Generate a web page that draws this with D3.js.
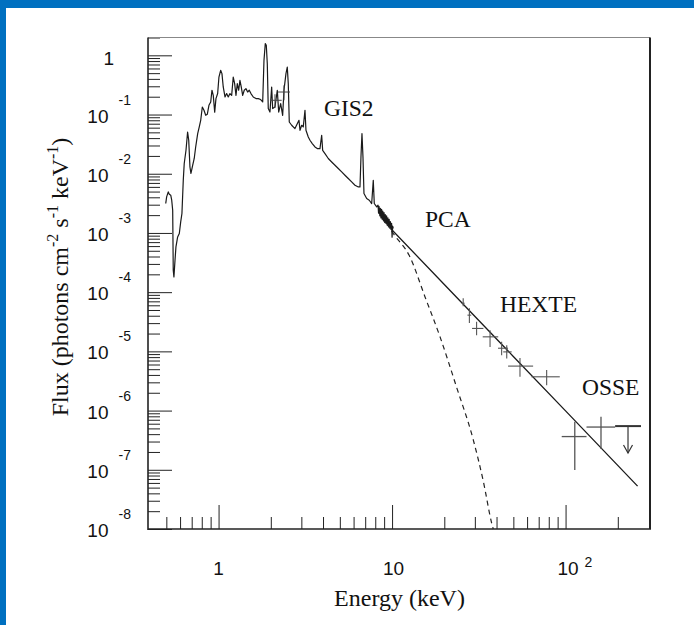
<!DOCTYPE html>
<html><head><meta charset="utf-8">
<script src="https://cdn.jsdelivr.net/npm/d3@7"></script>
<style>
html,body{margin:0;padding:0;background:#fff;}
svg{display:block;}
</style></head>
<body>
<svg id="c" width="694" height="625"></svg>
<script>
// ---------------- data ----------------
const xDomain = [0.392, 306.6];     // keV
const yDomain = [1e-8, 2];          // photons cm-2 s-1 keV-1
const xTickLabels = [{v:1, base:"1", sup:""}, {v:10, base:"10", sup:""}, {v:100, base:"10", sup:"2"}];
const yTickExps = [0,-1,-2,-3,-4,-5,-6,-7,-8];
const xMinorTicks = [0.5,0.6,0.7,0.8,0.9,2,3,4,5,6,7,8,9,20,30,40,50,60,70,80,90,200];

// GIS2 / PCA spectrum (energy keV, flux)
const specE = [
 0.496,0.502,0.513,0.520,0.530,0.537,0.544,0.548,0.553,0.561,
 0.568,0.581,0.594,0.605,0.615,0.626,0.634,0.649,0.663,0.673,
 0.684,0.693,0.709,0.724,0.738,0.758,0.774,0.789,0.806,0.824,
 0.843,0.861,0.880,0.901,0.916,0.932,0.950,0.966,0.988,1.005,
 1.028,1.046,1.064,1.089,1.113,1.137,1.163,1.190,1.215,1.238,
 1.260,1.282,1.306,1.328,1.351,1.377,1.406,1.438,1.471,1.503,
 1.537,1.585,1.643,1.694,1.748,1.796,1.827,1.859,1.884,1.909,
 1.934,1.978,2.023,2.050,2.114,2.180,2.221,2.280,2.341,2.382,
 2.446,2.489,2.522,2.556,2.638,2.756,2.907,2.946,3.013,3.077,
 3.148,3.190,3.289,3.364,3.468,3.594,3.706,3.841,3.929,3.981,
 4.105,4.289,4.487,4.688,4.898,5.124,5.352,5.592,5.850,6.112,
 6.388,6.531,6.618,6.707,6.797,6.887,7.139,7.390,7.629,7.792,7.897,8.152,
 8.30,8.36,8.42,8.50,8.56,8.63,8.70,8.77,8.84,8.92,8.99,9.07,9.14,9.22,
 9.30,9.38,9.46,9.54,9.62,9.70,9.78,9.86,9.94,10.0,10.08,10.16];
const specF = [
 3.14e-3,4.06e-3,4.93e-3,4.51e-3,4.34e-3,3.57e-3,2.42e-3,2.35e-4,1.81e-4,3.47e-4,
 5.82e-4,8.58e-4,9.79e-4,1.54e-3,2.13e-3,7.77e-3,1.49e-2,2.49e-2,5.07e-2,3.68e-2,
 1.30e-2,1.01e-2,1.39e-2,1.81e-2,2.83e-2,4.77e-2,6.17e-2,8.00e-2,0.134,0.118,
 0.0971,0.101,0.143,0.163,0.257,0.211,0.110,0.186,0.226,0.430,
 0.558,0.491,0.292,0.198,0.226,0.198,0.226,0.211,0.430,0.333,
 0.211,0.333,0.257,0.379,0.292,0.211,0.257,0.274,0.240,0.257,
 0.226,0.198,0.186,0.186,0.179,0.163,0.823,1.576,1.475,0.724,
 0.126,0.110,0.292,0.126,0.134,0.257,0.110,0.153,0.0971,0.257,
 0.491,0.635,0.333,0.0748,0.0659,0.0579,0.0800,0.0542,0.0659,0.0617,
 0.118,0.0542,0.0418,0.0368,0.0323,0.0283,0.0266,0.0266,0.0447,0.0249,
 0.0219,0.0181,0.0158,0.0139,0.01224,0.01073,9.43e-3,8.30e-3,7.27e-3,6.39e-3,
 5.99e-3,5.99e-3,0.0192,0.0477,0.0192,4.63e-3,3.81e-3,3.57e-3,3.14e-3,7.77e-3,3.14e-3,2.75e-3,
 2.95e-3,2.15e-3,2.8e-3,1.95e-3,2.6e-3,1.8e-3,2.5e-3,1.7e-3,2.35e-3,1.6e-3,2.2e-3,1.5e-3,2.05e-3,1.45e-3,
 1.95e-3,1.35e-3,1.8e-3,1.3e-3,1.7e-3,1.2e-3,1.55e-3,1.15e-3,1.45e-3,8.5e-4,1.3e-3,1.19e-3];

// GIS2 error crosses
const gisE   = [2.114, 2.382];
const gisElo = [1.978, 2.200];
const gisEhi = [2.311, 2.579];
const gisF   = [0.174, 0.240];
const gisFlo = [0.130, 0.174];
const gisFhi = [0.220, 0.311];

// total model (solid) and thermal component (dashed)
const modelE = [10, 20, 50, 100, 260];
const modelF = [1.12e-3, 1.35e-4, 8.2e-6, 9.9e-7, 5.3e-8];
const dashE  = [9.3, 10.16, 12.68, 15.49, 18.9, 23.5, 29.4, 33.6, 37.5, 38.3];
const dashF  = [1.45e-3, 9.8e-4, 3.94e-4, 8.3e-5, 1.76e-5, 2.52e-6, 3.18e-7, 6.3e-8, 1.26e-8, 1.0e-8];

// HEXTE
const hexE   = [25.7, 27.9, 30.7, 36.7, 42.8, 45.8, 54.6, 77.8];
const hexElo = [25.2, 27.2, 28.9, 33.3, 40.8, 43.7, 46.7, 63.6];
const hexEhi = [26.2, 28.6, 33.6, 40.9, 46.6, 48.9, 65.0, 92.6];
const hexF   = [6.5e-5, 4.09e-5, 2.44e-5, 1.76e-5, 1.13e-5, 9.8e-6, 5.64e-6, 3.72e-6];
const hexFlo = [5.8e-5, 3.0e-5, 1.88e-5, 1.19e-5, 8.6e-6, 7.6e-6, 3.72e-6, 2.69e-6];
const hexFhi = [7.9e-5, 5.37e-5, 3.15e-5, 2.28e-5, 1.45e-5, 1.27e-5, 7.7e-6, 4.83e-6];

// OSSE
const osseE   = [113, 160];
const osseElo = [95, 132];
const osseEhi = [132, 193];
const osseF   = [3.64e-7, 5.27e-7];
const osseFlo = [9.9e-8, 2.24e-7];
const osseFhi = [6.5e-7, 7.85e-7];
// OSSE upper limit
const ulE = [229], ulElo = [193], ulEhi = [272], ulF = [5.47e-7], ulTo = [1.92e-7];

// instrument labels (text start energy, baseline flux)
const instNames = ["GIS2", "PCA", "HEXTE", "OSSE"];
const instE = [4.05, 15.47, 41.9, 124.3];
const instF = [0.0934, 1.25e-3, 4.6e-5, 1.83e-6];

// ---------------- drawing ----------------
const W = 694, H = 625;
const svg = d3.select("#c");
svg.append("rect").attr("width", W).attr("height", H).attr("fill", "#fff");
svg.append("rect").attr("x",0).attr("y",0).attr("width",W).attr("height",8).attr("fill","#0070c0");
svg.append("rect").attr("x",0).attr("y",0).attr("width",6).attr("height",H).attr("fill","#0070c0");

const m = {l:148, t:37.5, r:650, b:529};
const x = d3.scaleLog().domain(xDomain).range([m.l, m.r]);
const y = d3.scaleLog().domain(yDomain).range([m.b, m.t]);

const SANS = "'Liberation Sans', Arial, Helvetica, sans-serif";
const SERIF = "'Liberation Serif', 'Times New Roman', Times, serif";

// ticks
const xMajor = xTickLabels.map(d => d.v);
const yMajor = yTickExps.map(e => Math.pow(10, e));
const yMinor = y.ticks().filter(v => !yMajor.some(M => Math.abs(Math.log10(v) - Math.log10(M)) < 1e-6));

function styleAxis(g){
  g.select(".domain").remove();
  g.selectAll(".tick line").attr("stroke", "#222").attr("stroke-width", 1);
  g.selectAll(".tick text").remove();
}
svg.append("g").attr("transform", `translate(0,${m.b})`)
  .call(d3.axisBottom(x).tickValues(xMinorTicks).tickSize(-12).tickFormat("")).call(styleAxis);
svg.append("g").attr("transform", `translate(0,${m.b})`)
  .call(d3.axisBottom(x).tickValues(xMajor).tickSize(-24).tickFormat("")).call(styleAxis);
svg.append("g").attr("transform", `translate(${m.l},0)`)
  .call(d3.axisLeft(y).tickValues(yMinor).tickSize(-12).tickFormat("")).call(styleAxis);
svg.append("g").attr("transform", `translate(${m.l},0)`)
  .call(d3.axisLeft(y).tickValues(yMajor).tickSize(-24).tickFormat("")).call(styleAxis);

// frame
svg.append("line").attr("x1",m.l).attr("x2",m.r).attr("y1",m.t).attr("y2",m.t).attr("stroke","#888").attr("stroke-width",1.2);
svg.append("line").attr("x1",m.r).attr("x2",m.r).attr("y1",m.t).attr("y2",m.b).attr("stroke","#222").attr("stroke-width",2);
svg.append("line").attr("x1",m.l).attr("x2",m.l).attr("y1",m.t).attr("y2",m.b+1).attr("stroke","#222").attr("stroke-width",1.6);
svg.append("line").attr("x1",m.l).attr("x2",m.r+1).attr("y1",m.b).attr("y2",m.b).attr("stroke","#222").attr("stroke-width",1.6);

// y tick labels
yTickExps.forEach(e => {
  const yy = y(Math.pow(10, e));
  if (e === 0) {
    svg.append("text").attr("x", 114).attr("y", yy + 10).attr("text-anchor","end")
      .attr("font-family", SANS).attr("font-size", 19).attr("fill","#111").text("1");
  } else {
    svg.append("text").attr("x", 108.5).attr("y", yy + 8).attr("text-anchor","end")
      .attr("font-family", SANS).attr("font-size", 19).attr("fill","#111").text("10");
    svg.append("text").attr("x", 118.5).attr("y", yy - 10).attr("text-anchor","start")
      .attr("font-family", SANS).attr("font-size", 14).attr("fill","#111").text(String(e));
  }
});
// x tick labels
xTickLabels.forEach(d => {
  const xx = x(d.v);
  if (!d.sup) {
    svg.append("text").attr("x", xx + (d.base.length > 1 ? 1.5 : 0)).attr("y", 575).attr("text-anchor","middle")
      .attr("font-family", SANS).attr("font-size", 19).attr("fill","#111").text(d.base);
  } else {
    svg.append("text").attr("x", xx + 2.5).attr("y", 575).attr("text-anchor","middle")
      .attr("font-family", SANS).attr("font-size", 19).attr("fill","#111").text(d.base);
    svg.append("text").attr("x", xx + 19).attr("y", 567).attr("text-anchor","start")
      .attr("font-family", SANS).attr("font-size", 14).attr("fill","#111").text(d.sup);
  }
});

// axis titles
svg.append("text").attr("x", 399.5).attr("y", 606).attr("text-anchor","middle")
  .attr("font-family", SERIF).attr("font-size", 24).attr("fill","#111").text("Energy (keV)");

const yt = svg.append("text").attr("transform", "translate(67.5,277) rotate(-90)")
  .attr("text-anchor","middle").attr("font-family", SERIF).attr("font-size", 24).attr("fill","#111");
const parts = [["Flux (photons cm",0],["-2",1],[" s",0],["-1",1],[" keV",0],["-1",1],[")",0]];
let prevSup = 0;
parts.forEach(([t, s]) => {
  const ts = yt.append("tspan").text(t);
  if (s) { ts.attr("font-size", 16).attr("dy", prevSup ? 0 : -10); }
  else if (prevSup) { ts.attr("dy", 10); }
  prevSup = s;
});

// plot content
const line = d3.line().x(d => x(d[0])).y(d => y(d[1]));
const spec = specE.map((e, i) => [e, specF[i]]);
svg.append("path").attr("d", line(spec)).attr("fill","none").attr("stroke","#1a1a1a").attr("stroke-width",1.2).attr("stroke-linejoin","round");

const model = modelE.map((e, i) => [e, modelF[i]]);
svg.append("path").attr("d", line(model)).attr("fill","none").attr("stroke","#1a1a1a").attr("stroke-width",1.3);

const dashed = dashE.map((e, i) => [e, dashF[i]]);
svg.append("path").attr("d", d3.line().x(d => x(d[0])).y(d => y(d[1])).curve(d3.curveMonotoneX)(dashed))
  .attr("fill","none").attr("stroke","#222").attr("stroke-width",1.2).attr("stroke-dasharray","5,4");

function crosses(E, Elo, Ehi, F, Flo, Fhi, col, w){
  const g = svg.append("g").attr("stroke", col).attr("stroke-width", w);
  E.forEach((e, i) => {
    g.append("line").attr("x1", x(Elo[i])).attr("x2", x(Ehi[i])).attr("y1", y(F[i])).attr("y2", y(F[i]));
    g.append("line").attr("x1", x(e)).attr("x2", x(e)).attr("y1", y(Flo[i])).attr("y2", y(Fhi[i]));
  });
}
crosses(gisE, gisElo, gisEhi, gisF, gisFlo, gisFhi, "#444", 1);
crosses(hexE, hexElo, hexEhi, hexF, hexFlo, hexFhi, "#555", 1.1);
crosses(osseE, osseElo, osseEhi, osseF, osseFlo, osseFhi, "#555", 1.3);

// upper limit
ulE.forEach((e, i) => {
  const g = svg.append("g").attr("stroke", "#333").attr("fill","none");
  g.append("line").attr("x1", x(ulElo[i])).attr("x2", x(ulEhi[i])).attr("y1", y(ulF[i])).attr("y2", y(ulF[i])).attr("stroke-width", 2);
  g.append("line").attr("x1", x(e)).attr("x2", x(e)).attr("y1", y(ulF[i])).attr("y2", y(ulTo[i])).attr("stroke-width", 1.2);
  g.append("path").attr("d", `M${x(e)-4.5},${y(ulTo[i])-8}L${x(e)},${y(ulTo[i])}L${x(e)+4.5},${y(ulTo[i])-8}`).attr("stroke-width", 1.2);
});

// instrument labels
instNames.forEach((t, i) => {
  svg.append("text").attr("x", x(instE[i])).attr("y", y(instF[i])).attr("font-family", SERIF).attr("font-size", 23.5)
    .attr("fill","#111").text(t);
});
</script>
</body></html>
